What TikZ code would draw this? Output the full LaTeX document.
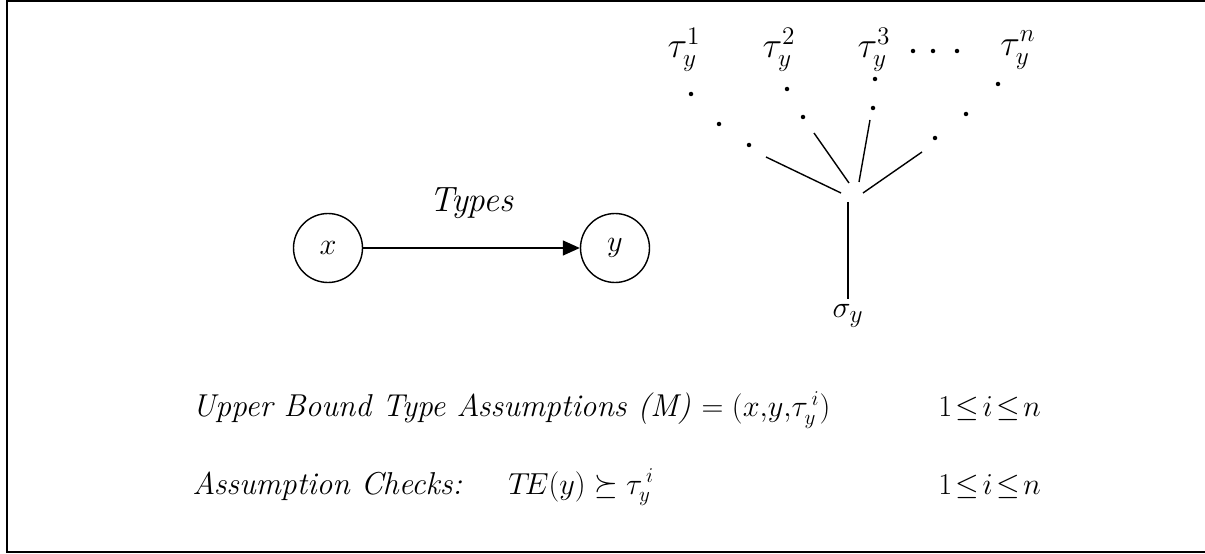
\documentclass[tikz,border=0pt]{standalone}
\usepackage{amsmath,amssymb}
\usepackage{tikz}
\usetikzlibrary{arrows.meta,positioning,calc}

\begin{document}
\begin{tikzpicture}[
  x=0.02cm, y=-0.02cm,
  var/.style={draw, circle, line width=0.8pt, minimum size=1.38cm, inner sep=0pt, font=\fontsize{17}{20}\selectfont},
  arrow/.style={-{Triangle[length=0.34cm, width=0.3cm]}, line width=0.8pt},
  branch/.style={line width=0.8pt},
  tau/.style={font=\fontsize{21}{25}\selectfont},
  label/.style={font=\fontsize{18}{22}\selectfont\itshape, anchor=base west, inner sep=0pt},
  dot/.style={circle, fill, inner sep=0pt, minimum size=0.09cm}
]
\useasboundingbox (0,0) rectangle (1205,554);

% frame
\draw[line width=1.2pt] (1205,1) -- (7,1) -- (7,552) -- (1205,552);

% x --Types--> y
\node[var] (x) at (328,248) {$x$};
\node[var] (y) at (615,248) {$y$};
\draw[arrow] (x) -- (y) node[midway, above=0.45cm, font=\fontsize{20}{24}\selectfont\itshape] (types) {Types};

% upper bound types of y
\node[tau] (t1) at (684,50) {$\tau_y^1$};
\node[tau] (t2) at (779,50) {$\tau_y^2$};
\node[tau] (t3) at (874,50) {$\tau_y^3$};
\node[tau] (tn) at (1018,50) {$\tau_y^n$};
\node[tau, font=\fontsize{19}{22}\selectfont] (sig) at (848,316) {$\sigma_y$};

\foreach \p/\q [count=\k] in {913/51, 933/51, 957/51,
    691/94, 719/124, 749/145, 787/89, 803/117,
    875/79, 873/108, 998/84, 966/114, 935/138}
  \node[dot] (d\k) at (\p,\q) {};

\coordinate (a1) at (841,193); \coordinate (b1) at (766,157);
\coordinate (a2) at (849,183); \coordinate (b2) at (814,133);
\coordinate (a3) at (859,182); \coordinate (b3) at (870,120);
\coordinate (a4) at (863,193); \coordinate (b4) at (922,152);
\coordinate (a5) at (848,202);
\foreach \k in {1,...,4}
  \draw[branch] (a\k) -- (b\k);
\draw[branch] (a5) -- (sig);

% assumptions
\node[label] (ub) at (192,417) {Upper Bound Type Assumptions (M) $=(x{,}y{,}\tau_y^{\,i})$};
\node[label] (r1) at (938,417) {$1\!\le\! i\!\le\! n$};
\node[label] (ac) at (192,494) {Assumption Checks:};
\node[label] (te) at (508,494) {$T\!E(y)\succeq\tau_y^{\,i}$};
\node[label] (r2) at (938,494) {$1\!\le\! i\!\le\! n$};
\end{tikzpicture}
\end{document}
